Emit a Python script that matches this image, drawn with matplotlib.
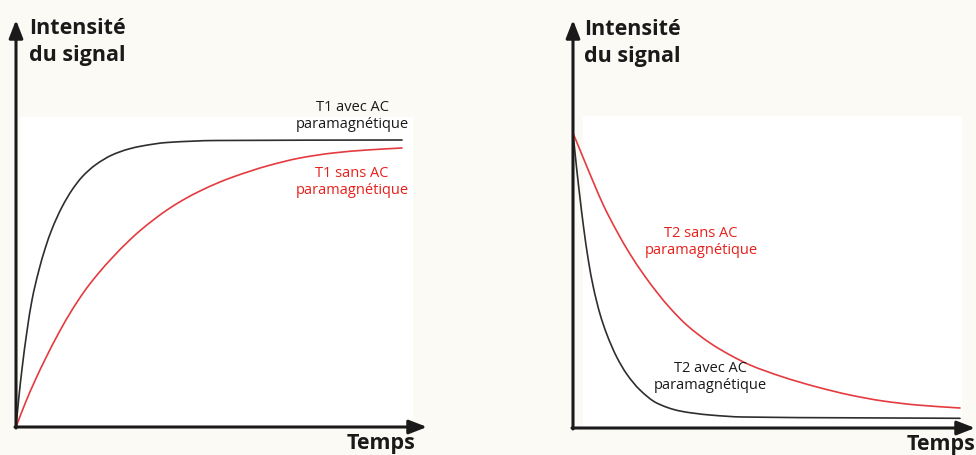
import matplotlib
matplotlib.use("Agg")
import matplotlib.pyplot as plt
from matplotlib.patches import Rectangle, PathPatch
from matplotlib.path import Path

# ---- data (arbitrary units) ----
t1_avec_t = [0, 2.7, 6, 11, 16, 22.7, 29.3, 36, 46, 56, 66, 79.3, 96, 112.7, 126, 151, 201, 386]
t1_avec_s = [0, 28, 58, 96, 127, 156, 179, 198, 220, 237, 250, 262, 272, 278, 281, 284.5, 286.5, 287]
t1_sans_t = [0, 9.3, 19.3, 29.3, 42.7, 56, 69.3, 82.7, 96, 112.7, 126, 151, 167, 184, 204, 217,
             251, 284, 317, 351, 386]
t1_sans_s = [0, 24, 47, 68, 94, 117, 137, 154, 169, 186, 198, 217, 227, 236, 245, 250,
             261, 269, 274, 277, 279]

t2_avec_t = [0, 3.7, 7, 10.3, 15.3, 20.3, 27, 33.7, 43.7, 53.7, 67, 83.7, 107, 137, 170, 387]
t2_avec_s = [295, 259, 230, 203, 168, 141, 114, 94, 71, 54, 38, 25, 17, 13, 11, 9.7]
t2_sans_t = [0, 10.3, 20.3, 30.3, 43.7, 57, 70.3, 83.7, 97, 113.7, 137, 157, 177, 210, 244, 277,
             310, 344, 387]
t2_sans_s = [295, 270, 246, 223, 197, 174, 154, 136, 120, 103, 85, 73, 63, 51, 41, 33,
             27, 23, 20]

ylabel = "Intensité\ndu signal"
xlabel = "Temps"
lab_t1_avec = "T1 avec AC\nparamagnétique"
lab_t1_sans = "T1 sans AC\nparamagnétique"
lab_t2_sans = "T2 sans AC\nparamagnétique"
lab_t2_avec = "T2 avec AC\nparamagnétique"

W, H = 976, 456
BLACK = "#1a1a1a"
CURVE_BLACK = "#2e2e2e"
RED_TXT = "#e8201c"
RED_CURVE = "#e53a3f"
BG = "#fcfaf5"

fig = plt.figure(figsize=(W / 100, H / 100), dpi=100)
fig.patch.set_facecolor(BG)


def fr(x0, y0, x1, y1):
    return [x0 / W, 1 - y1 / H, (x1 - x0) / W, (y1 - y0) / H]


def smooth_path(xs, ys):
    """Piecewise cubic (monotone Hermite) path through the given points, as Bezier segments."""
    n = len(xs)
    sec = [(ys[i + 1] - ys[i]) / (xs[i + 1] - xs[i]) for i in range(n - 1)]
    d = [0.0] * n
    d[0], d[-1] = sec[0], sec[-1]
    for i in range(1, n - 1):
        a, b = sec[i - 1], sec[i]
        if a * b <= 0:
            d[i] = 0.0
        else:
            h0, h1 = xs[i] - xs[i - 1], xs[i + 1] - xs[i]
            w1, w2 = 2 * h1 + h0, h1 + 2 * h0
            d[i] = (w1 + w2) / (w1 / a + w2 / b)
    verts = [(xs[0], ys[0])]
    codes = [Path.MOVETO]
    for i in range(n - 1):
        h = xs[i + 1] - xs[i]
        verts += [(xs[i] + h / 3, ys[i] + d[i] * h / 3),
                  (xs[i + 1] - h / 3, ys[i + 1] - d[i + 1] * h / 3),
                  (xs[i + 1], ys[i + 1])]
        codes += [Path.CURVE4] * 3
    return Path(verts, codes)


def curve(ax, xs, ys, color):
    ax.add_patch(PathPatch(smooth_path(xs, ys), facecolor="none", edgecolor=color,
                           lw=1.2, joinstyle="round", capstyle="round"))


# background layer with white panel areas
bg = fig.add_axes([0, 0, 1, 1], zorder=-5)
bg.set_xlim(0, W)
bg.set_ylim(H, 0)
bg.axis("off")
bg.add_patch(Rectangle((20, 118), 413 - 20, 428 - 118, color="white", lw=0))
bg.add_patch(Rectangle((583, 117), 962 - 583, 428 - 117, color="white", lw=0))

title_font = dict(family="Open Sans", weight="bold", size=15.5, color=BLACK)
lab_font = dict(family="Open Sans", size=10.5, linespacing=1.2)


def setup(ax, xmax, ymax, xtip, ytip):
    ax.set_xlim(0, xmax)
    ax.set_ylim(0, ymax)
    ax.axis("off")
    ax.patch.set_alpha(0)
    kw = dict(arrowstyle="-|>,head_length=0.9,head_width=0.35", lw=2.2, color=BLACK,
              shrinkA=0, shrinkB=0, mutation_scale=12)
    ax.annotate("", xy=(0, ytip), xytext=(0, -1), arrowprops=kw, annotation_clip=False)
    ax.annotate("", xy=(xtip, 0), xytext=(-1, 0), arrowprops=kw, annotation_clip=False)


# ---- left panel ----
axL = fig.add_axes(fr(16, 20, 430, 428))
setup(axL, 414, 408, 411, 407)
curve(axL, t1_avec_t, t1_avec_s, CURVE_BLACK)
curve(axL, t1_sans_t, t1_sans_s, RED_CURVE)
axL.text(13, 410, ylabel, ha="left", va="top", linespacing=1.4, **title_font)
axL.text(331, -5, xlabel, ha="left", va="top", **title_font)
axL.text(336, 328, lab_t1_avec, ha="center", va="top", color=BLACK, **lab_font)
axL.text(336, 262, lab_t1_sans, ha="center", va="top", color=RED_TXT, **lab_font)

# ---- right panel ----
axR = fig.add_axes(fr(573, 20, 976, 429))
setup(axR, 403, 409, 402, 408)
curve(axR, t2_avec_t, t2_avec_s, CURVE_BLACK)
curve(axR, t2_sans_t, t2_sans_s, RED_CURVE)
axR.text(11, 410, ylabel, ha="left", va="top", linespacing=1.4, **title_font)
axR.text(334, -5, xlabel, ha="left", va="top", **title_font)
axR.text(128, 203, lab_t2_sans, ha="center", va="top", color=RED_TXT, **lab_font)
axR.text(137, 68, lab_t2_avec, ha="center", va="top", color=BLACK, **lab_font)

fig.savefig("out.png", dpi=100, facecolor=BG)
